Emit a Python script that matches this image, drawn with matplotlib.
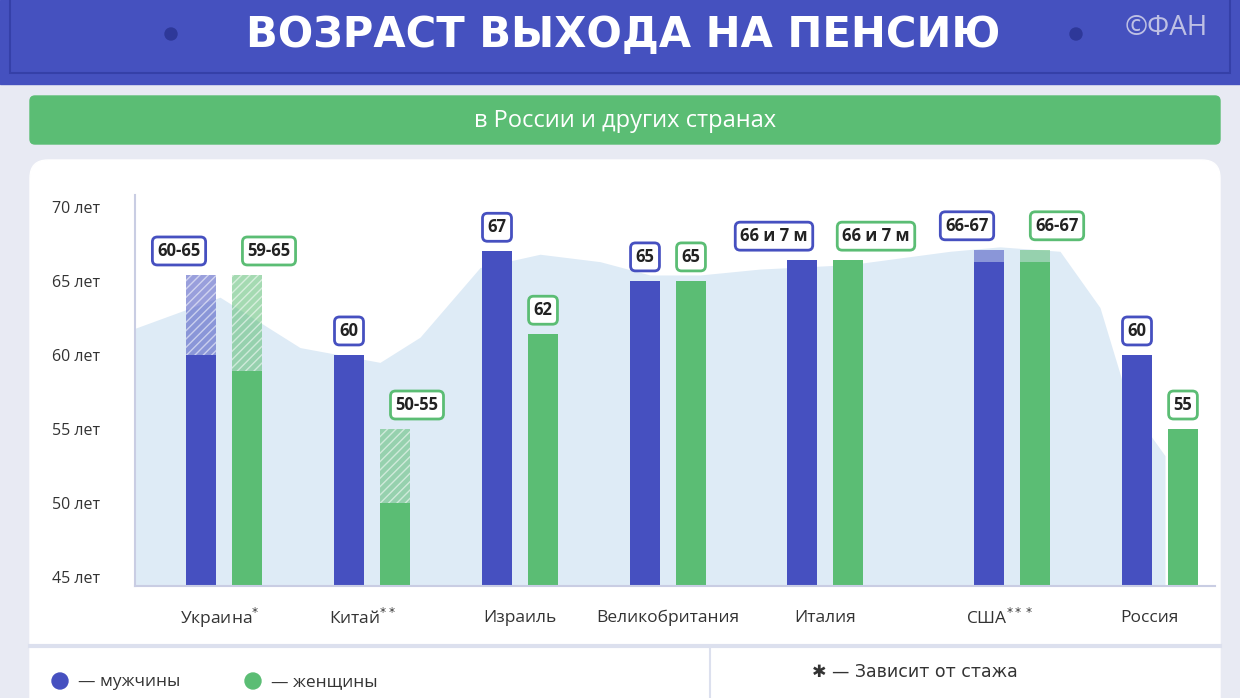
import numpy as np
import matplotlib
matplotlib.use("Agg")
import matplotlib.pyplot as plt
from matplotlib.patches import FancyBboxPatch, Rectangle, Circle

# данные
countries = ["Украина", "Китай", "Израиль", "Великобритания", "Италия", "США", "Россия"]
marks = ["*", "**", "", "", "", "***", ""]
men_base = [60, 60, 67, 65, 66.4, 66.3, 60]
men_top = [65.4, 60, 67, 65, 66.4, 67.1, 60]
women_base = [58.9, 50, 61.4, 65, 66.4, 66.3, 55]
women_top = [65.4, 55, 61.4, 65, 66.4, 67.1, 55]
men_labels = ["60-65", "60", "67", "65", "66 и 7 м", "66-67", "60"]
women_labels = ["59-65", "50-55", "62", "65", "66 и 7 м", "66-67", "55"]
yticks = [45, 50, 55, 60, 65, 70]
wave_x = [135, 220, 300, 380, 420, 480, 540, 600, 650, 700, 760, 850, 950, 1000, 1060, 1100, 1130, 1165]
wave_y = [61.8, 63.9, 60.5, 59.5, 61.2, 65.9, 66.8, 66.3, 65.4, 65.4, 65.8, 66.1, 67.0, 67.3, 67.0, 63.2, 56.5, 53.2]

BLUE = "#4650C0"
GREEN = "#5BBD74"
BG = "#E8EAF3"
FONT = "Open Sans"

# центры групп и подписей (пиксели)
centers = [224, 372, 520, 668, 825, 1012, 1160]
label_x = [220, 362, 520, 668, 825, 1000, 1149]
half = 23
bw = 30

fig = plt.figure(figsize=(12.4, 6.98), dpi=100)
fig.patch.set_facecolor(BG)
bgax = fig.add_axes([0, 0, 1, 1])
bgax.set_xlim(0, 1240)
bgax.set_ylim(698, 0)
bgax.axis("off")

# шапка
bgax.add_patch(Rectangle((0, 0), 1240, 84, color="#4551BF"))
bgax.add_patch(Rectangle((10, -5), 1220, 78, fill=False, ec="#3540A8", lw=1.5))
bgax.add_patch(Circle((171, 34), 6, color="#2E3899"))
bgax.add_patch(Circle((1076, 34), 6, color="#2E3899"))
bgax.text(623, 35, "ВОЗРАСТ ВЫХОДА НА ПЕНСИЮ", color="white", fontsize=30, fontweight="bold",
          family="DejaVu Sans", ha="center", va="center")
bgax.text(1166, 28, "©ФАН", color="#DDDDEE", fontsize=20, family=FONT, ha="center", va="center", alpha=0.8)
bgax.add_patch(FancyBboxPatch((30, 96), 1190, 48, boxstyle="round,pad=0,rounding_size=5", color=GREEN))
bgax.text(625, 121, "в России и других странах", color="white", fontsize=17, family=FONT,
          ha="center", va="center")
# белая панель
bgax.add_patch(FancyBboxPatch((30, 160), 1190, 560, boxstyle="round,pad=0,rounding_size=18", color="white"))
bgax.plot([30, 1220], [646, 646], color="#DCE0EE", lw=3)
bgax.plot([710, 710], [648, 698], color="#DCE0EE", lw=1.5)
bgax.add_patch(Circle((60, 681), 8, color=BLUE))
bgax.text(78, 682, "— мужчины", fontsize=12.5, family=FONT, va="center", color="#333")
bgax.add_patch(Circle((253, 681), 8, color=GREEN))
bgax.text(271, 682, "— женщины", fontsize=12.5, family=FONT, va="center", color="#333")
bgax.text(812, 672, "✱ — Зависит от стажа", fontsize=12.5, family=["DejaVu Sans"], va="center", color="#333")

# область графика: x в пикселях, y в годах
ax = fig.add_axes([135 / 1240, 1 - 586 / 698, 1080 / 1240, (586 - 195) / 698])
ax.set_xlim(135, 1215)
ax.set_ylim(44.4, 70.8)
ax.patch.set_alpha(0)
ax.fill_between(wave_x, 44.4, wave_y, color="#D6E6F4", alpha=0.8, lw=0, zorder=0)
for s in ["top", "right"]:
    ax.spines[s].set_visible(False)
for s in ["left", "bottom"]:
    ax.spines[s].set_color("#C9CDE3")
    ax.spines[s].set_linewidth(1.5)
ax.set_yticks(yticks)
ax.set_yticklabels([f"{v} лет" for v in yticks], family=FONT, fontsize=11.5, color="#333")
ax.tick_params(axis="y", length=0, pad=25)
ax.set_xticks([])


def box(x, y, txt, ec, dx):
    ax.annotate(txt, (x, y), xytext=(dx, 24), textcoords="offset pixels",
                ha="center", va="center", fontsize=12, fontweight="bold", family=FONT, color="#222",
                bbox=dict(boxstyle="round,pad=0.3,rounding_size=0.3", fc="white", ec=ec, lw=2))


def shift(txt):
    if len(txt) > 5:
        return 28
    if len(txt) > 2:
        return 22
    return 0


for i, c in enumerate(centers):
    for x, base, top, col, lab, sgn in [(c - half, men_base[i], men_top[i], BLUE, men_labels[i], -1),
                                        (c + half, women_base[i], women_top[i], GREEN, women_labels[i], 1)]:
        ax.bar(x, base - 44.4, bw, bottom=44.4, color=col, zorder=2)
        if top > base:
            hatch = "////" if i != 5 else None
            ax.bar(x, top - base, bw, bottom=base, color=col, alpha=0.55, zorder=2,
                   hatch=hatch, edgecolor="white", lw=0)
        box(x, top, lab, col, sgn * shift(lab))
    name = countries[i] + (f"$^{{{marks[i]}}}$" if marks[i] else "")
    bgax.text(label_x[i], 618, name, ha="center", va="center", fontsize=12.5, family=FONT, color="#333")

fig.savefig("out.png", dpi=100, facecolor=fig.get_facecolor())
